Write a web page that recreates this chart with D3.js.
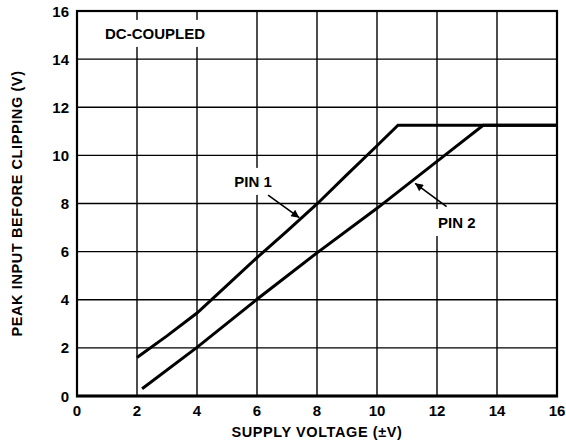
<!DOCTYPE html>
<html>
<head>
<meta charset="utf-8">
<script src="https://cdn.jsdelivr.net/npm/d3@7"></script>
<style>
  body { margin: 0; background: #fff; }
  svg { font-family: "Liberation Sans", Arial, sans-serif; font-weight: bold; }
</style>
</head>
<body>
<svg id="chart" width="566" height="447"></svg>
<script>
// Chart data
var xTicks = [0, 2, 4, 6, 8, 10, 12, 14, 16];
var yTicks = [0, 2, 4, 6, 8, 10, 12, 14, 16];

var pin1 = [[2, 1.6], [3, 2.5], [4, 3.45], [5, 4.6], [6, 5.75], [7, 6.85], [8, 7.98],
            [9, 9.2], [10, 10.4], [10.7, 11.25], [16, 11.25]];
var pin2 = [[2.17, 0.3], [4, 2.02], [6, 4.02], [8, 5.95], [10, 7.8], [12, 9.75],
            [13.54, 11.25], [16, 11.25]];

var labels = [
    {text: "DC-COUPLED", x: 2.6, y: 14.84},
    {text: "PIN 1", x: 5.87, y: 8.69},
    {text: "PIN 2", x: 12.66, y: 6.98}
];
var arrows = [
    {from: [6.37, 8.35], to: [7.41, 7.41]},
    {from: [12.32, 7.87], to: [11.27, 8.84]}
];

var svg = d3.select('#chart');

var x = d3.scaleLinear().domain([0, 16]).range([77, 557]);
var y = d3.scaleLinear().domain([0, 16]).range([396, 11]);

// Grid
var grid = svg.append('g').attr('stroke', '#000').attr('stroke-width', 1.4);
grid.selectAll('line.v')
    .data(xTicks.slice(1, -1))
    .enter().append('line')
    .attr('x1', function(d) { return x(d); })
    .attr('x2', function(d) { return x(d); })
    .attr('y1', y(0))
    .attr('y2', y(16));
grid.selectAll('line.h')
    .data(yTicks.slice(1, -1))
    .enter().append('line')
    .attr('y1', function(d) { return y(d); })
    .attr('y2', function(d) { return y(d); })
    .attr('x1', x(0))
    .attr('x2', x(16));

// Label boxes + text
var lab = svg.append('g');
labels.forEach(function(l) {
    var t = svg.append('text')
        .attr('x', x(l.x))
        .attr('y', y(l.y))
        .attr('text-anchor', 'middle')
        .attr('font-size', 15)
        .text(l.text);
    var b = t.node().getBBox();
    lab.append('rect')
        .attr('x', b.x - 5)
        .attr('y', b.y - 5)
        .attr('width', b.width + 10)
        .attr('height', b.height + 10)
        .attr('fill', '#fff');
});

// Frame
svg.append('rect')
    .attr('x', x(0))
    .attr('y', y(16))
    .attr('width', x(16) - x(0))
    .attr('height', y(0) - y(16))
    .attr('fill', 'none')
    .attr('stroke', '#000')
    .attr('stroke-width', 2.2);
svg.append('line')
    .attr('x1', x(0) - 1).attr('x2', x(16) + 1)
    .attr('y1', y(0)).attr('y2', y(0))
    .attr('stroke', '#000').attr('stroke-width', 3);

// Curves
var line = d3.line()
    .x(function(d) { return x(d[0]); })
    .y(function(d) { return y(d[1]); });

[pin1, pin2].forEach(function(s) {
    svg.append('path')
        .datum(s)
        .attr('d', line)
        .attr('fill', 'none')
        .attr('stroke', '#000')
        .attr('stroke-width', 3)
        .attr('stroke-linejoin', 'miter');
});

// Arrows
svg.append('defs').append('marker')
    .attr('id', 'head')
    .attr('viewBox', '0 0 10 10')
    .attr('refX', 10).attr('refY', 5)
    .attr('markerWidth', 13).attr('markerHeight', 8)
    .attr('markerUnits', 'userSpaceOnUse')
    .attr('orient', 'auto')
    .append('path')
    .attr('d', 'M0,0L10,5L0,10Z')
    .attr('fill', '#000');

svg.selectAll('line.arrow')
    .data(arrows)
    .enter().append('line')
    .attr('x1', function(d) { return x(d.from[0]); })
    .attr('y1', function(d) { return y(d.from[1]); })
    .attr('x2', function(d) { return x(d.to[0]); })
    .attr('y2', function(d) { return y(d.to[1]); })
    .attr('stroke', '#000')
    .attr('stroke-width', 1.6)
    .attr('marker-end', 'url(#head)');

// Tick labels
svg.selectAll('text.xt')
    .data(xTicks)
    .enter().append('text')
    .attr('x', function(d) { return x(d); })
    .attr('y', 416)
    .attr('text-anchor', 'middle')
    .attr('font-size', 15)
    .text(function(d) { return d; });

svg.selectAll('text.yt')
    .data(yTicks)
    .enter().append('text')
    .attr('x', 69)
    .attr('y', function(d) { return y(d) + 5.5; })
    .attr('text-anchor', 'end')
    .attr('font-size', 15)
    .text(function(d) { return d; });

// Axis titles
svg.append('text')
    .attr('x', x(8))
    .attr('y', 437)
    .attr('text-anchor', 'middle')
    .attr('font-size', 14.5)
    .attr('letter-spacing', 0.6)
    .text('SUPPLY VOLTAGE (\u00B1V)');

svg.append('text')
    .attr('transform', 'translate(22,' + (y(8)) + ') rotate(-90)')
    .attr('text-anchor', 'middle')
    .attr('font-size', 14.5)
    .attr('letter-spacing', 0.6)
    .text('PEAK INPUT BEFORE CLIPPING (V)');
</script>
</body>
</html>
